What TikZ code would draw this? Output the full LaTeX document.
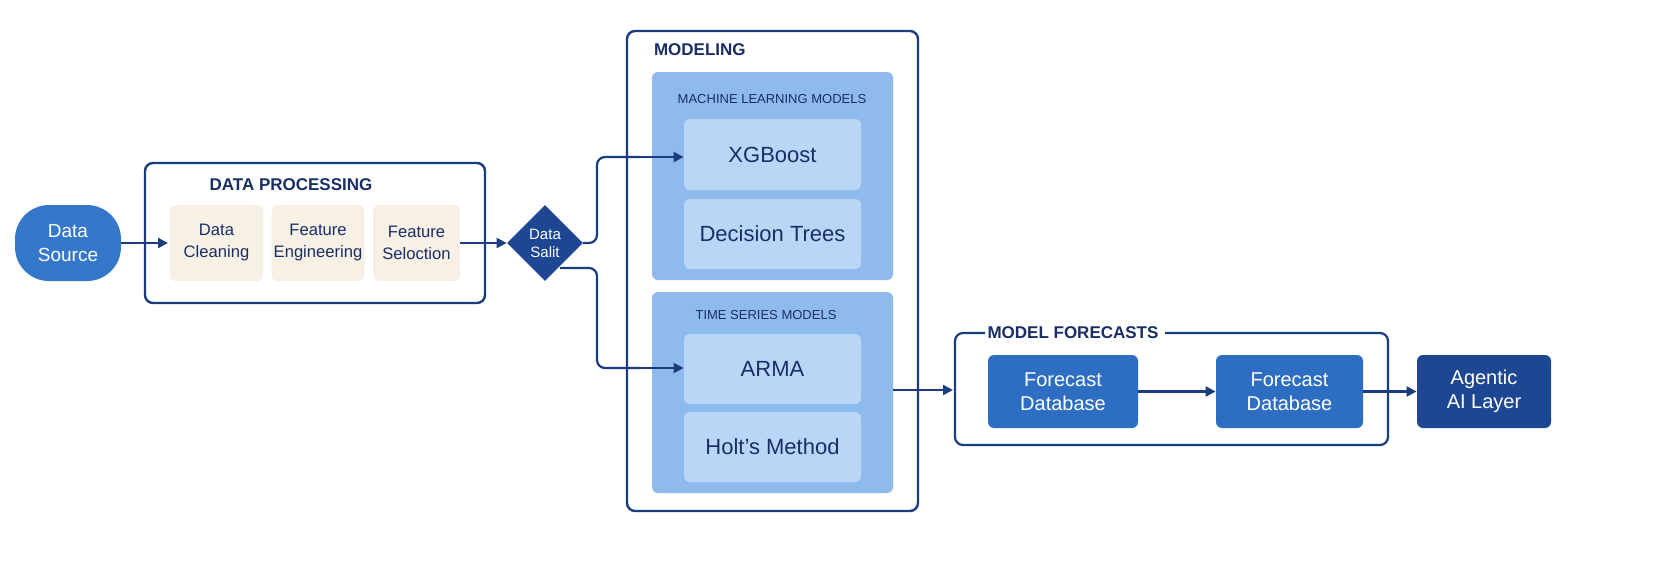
\documentclass[tikz,border=0pt]{standalone}
\usepackage{fontspec}
\setmainfont{Liberation Sans}
\usetikzlibrary{arrows.meta,shapes.geometric}
\definecolor{navy}{HTML}{1B3C7E}
\definecolor{ttl}{HTML}{1A2E66}
\definecolor{pnl}{HTML}{8FBBEC}
\definecolor{inn}{HTML}{B9D6F7}
\definecolor{beige}{HTML}{F6F1E4}
\definecolor{mid}{HTML}{2E6EC2}
\definecolor{dark}{HTML}{1D4793}
\definecolor{src}{HTML}{3577C9}
\begin{document}
\begin{tikzpicture}[x=0.5pt,y=-0.5pt,
 box/.style={draw=navy,line width=1.2pt,rounded corners=4pt},
 panel/.style={fill=pnl,rounded corners=3pt},
 inner/.style={fill=inn,rounded corners=3pt,text=ttl,font=\fontsize{11}{13}\selectfont,align=center},
 bg/.style={fill=beige,rounded corners=3pt,text=ttl,font=\fontsize{8.3}{11}\selectfont,align=center,inner sep=1pt},
 blue/.style={rounded corners=3pt,text=white,font=\fontsize{10}{12}\selectfont,align=center},
 title/.style={text=ttl,font=\bfseries\fontsize{8.5}{10}\selectfont},
 stitle/.style={text=ttl,font=\fontsize{6.5}{8}\selectfont},
 arr/.style={draw=navy,line width=1.1pt,-{Triangle[length=5pt,width=5pt]}},
 ln/.style={draw=navy,line width=1.1pt,rounded corners=4pt}]
\useasboundingbox[fill=white] (0,0) rectangle (1660,579);
% data source
\node[fill=src,rounded corners=17pt,minimum width=53pt,minimum height=38pt,text=white,font=\fontsize{9.5}{12}\selectfont,align=center] (ds) at (68,243) {Data\\Source};
% data processing
\draw[box] (145,163) rectangle (485,303);
\node[title] (dpt) at (291,185) {DATA PROCESSING};
\node[bg,minimum width=46.5pt,minimum height=38pt] (dc) at (216.5,243) {Data\\Cleaning};
\node[bg,minimum width=45pt,minimum height=38pt] (fe) at (318,243) {Feature\\Engineering};
\node[bg,minimum width=43.5pt,minimum height=38pt] (fs) at (416.5,243) {Feature\\Seloction};
\coordinate (dpin) at (168,243);
\draw[arr] (ds.east) -- (dpin);
% diamond
\node[diamond,fill=dark,minimum width=38pt,minimum height=38pt,inner sep=0pt,text=white,font=\fontsize{7.5}{9}\selectfont,align=center] (dsp) at (545,243) {Data\\Salit};
\draw[arr] (fs.east) -- (dsp.west);
% modeling
\draw[box] (627,31) rectangle (918,511);
\node[title,anchor=west] (mt) at (647,50) {MODELING};
\node[panel,minimum width=120.5pt,minimum height=104pt] (mlp) at (772.5,176) {};
\node[stitle] (mlt) at (772,99) {MACHINE LEARNING MODELS};
\node[inner,minimum width=88.5pt,minimum height=35.5pt] (xgb) at (772.5,154.5) {XGBoost};
\node[inner,minimum width=88.5pt,minimum height=35pt] (dt) at (772.5,234) {Decision Trees};
\node[panel,minimum width=120.5pt,minimum height=100.5pt] (tsp) at (772.5,392.5) {};
\node[stitle] (tst) at (766,315) {TIME SERIES MODELS};
\node[inner,minimum width=88.5pt,minimum height=35pt] (arma) at (772.5,369) {ARMA};
\node[inner,minimum width=88.5pt,minimum height=35pt] (holt) at (772.5,447) {Holt’s Method};
\coordinate (d1) at (583,243);
\coordinate (d2) at (560,268);
\draw[ln] (d1) -- (597,243) -- (597,157) -- (640,157);
\draw[arr] (640,157) -- (xgb.west|-640,157);
\draw[ln] (d2) -- (597,268) -- (597,368) -- (640,368);
\draw[arr] (640,368) -- (arma.west|-640,368);
% forecasts
\draw[ln] (985,333) -- (955,333) -- (955,445) -- (1388,445) -- (1388,333) -- (1165,333);
\node[title] (mft) at (1073,333) {MODEL FORECASTS};
\node[blue,fill=mid,minimum width=75pt,minimum height=36.5pt] (f1) at (1063,391.5) {Forecast\\Database};
\node[blue,fill=mid,minimum width=73.5pt,minimum height=36.5pt] (f2) at (1289.5,391.5) {Forecast\\Database};
\node[blue,fill=dark,minimum width=67pt,minimum height=36.5pt] (ai) at (1484,391.5) {Agentic\\AI Layer};
\coordinate (mo) at (893,390);
\coordinate (fin) at (953,390);
\draw[arr] (mo) -- (fin);
\draw[arr] (f1.east) -- (f2.west);
\draw[arr] (f2.east) -- (ai.west);
\end{tikzpicture}
\end{document}
